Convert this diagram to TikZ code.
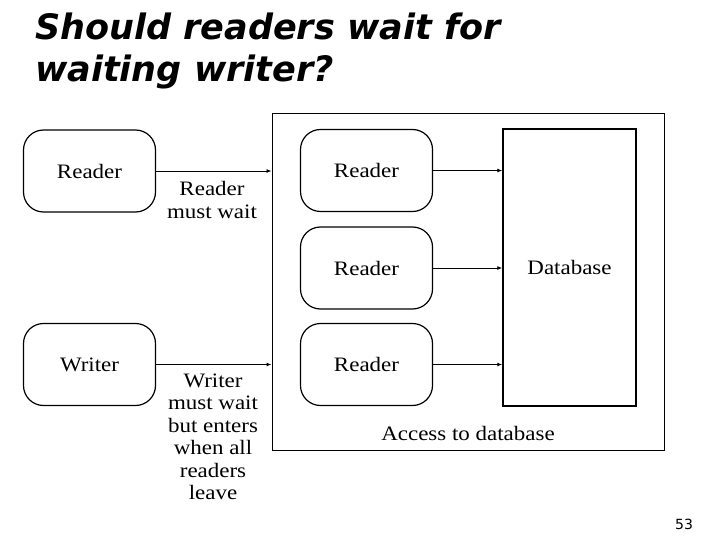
\documentclass[tikz,border=0pt]{standalone}
\usepackage{fontspec}
\setmainfont{Liberation Serif}[FakeStretch=1.12]
\newfontfamily\titlefont{DejaVu Sans}
\usetikzlibrary{arrows.meta,positioning}
\definecolor{slideink}{HTML}{000000}

\begin{document}
\begin{tikzpicture}[x=1pt,y=-1pt,
    procbox/.style={draw=slideink, line width=1.2pt, rounded corners=20pt,
      minimum width=132pt, minimum height=82pt, inner sep=0pt,
      font=\fontsize{20.5}{22.5}\selectfont},
    dbbox/.style={draw=slideink, line width=1.5pt, minimum width=133pt,
      minimum height=277pt, inner sep=0pt, font=\fontsize{20.5}{22.5}\selectfont},
    note/.style={align=center, font=\fontsize{20.5}{22.5}\selectfont},
    flow/.style={-{Latex[length=5pt,width=4pt]}, line width=0.8pt}]
  \useasboundingbox (0,0) rectangle (720,540);
  % title
  \node[anchor=base west, align=left, inner sep=0pt,
    font=\titlefont\bfseries\itshape\fontsize{35}{42}\selectfont]
    (title) at (35,82) {Should readers wait for\\waiting writer?};
  % access region
  \node[draw=slideink, line width=1pt, minimum width=392pt, minimum height=337pt,
    inner sep=0pt] (access) at (468,282) {};
  \node[note, anchor=base] (accesslbl) at (468,440) {Access to database};
  % readers inside
  \node[procbox] (r1) at (366.5,170.5) {Reader};
  \node[procbox] (r2) at (366.5,268) {Reader};
  \node[procbox] (r3) at (366.5,364.5) {Reader};
  \node[dbbox] (db) at (569.5,267.5) {Database};
  \draw[flow] (r1.east) -- (r1.east -| db.west);
  \draw[flow] (r2.east) -- (r2.east -| db.west);
  \draw[flow, line width=1.5pt] (r3.east) -- (r3.east -| db.west);
  % waiting processes
  \node[procbox] (wr) at (89.5,171) {Reader};
  \node[procbox] (ww) at (89.5,364.5) {Writer};
  \draw[flow] (wr.east) -- (wr.east -| access.west);
  \draw[flow, line width=1.5pt] (ww.east) -- (ww.east -| access.west);
  \node[note, anchor=north] (wrlbl) at (212,178) {Reader\\must wait};
  \node[note, anchor=north] (wwlbl) at (213,370)
    {Writer\\must wait\\but enters\\when all\\readers\\leave};
  % page number
  \node[font=\titlefont\fontsize{14}{16}\selectfont, anchor=base] (pnum) at (684,529) {53};
\end{tikzpicture}
\end{document}
